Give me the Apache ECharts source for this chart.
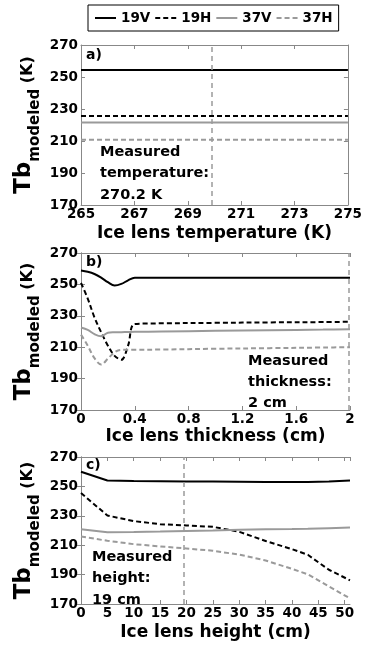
<!DOCTYPE html>
<html>
<head>
<meta charset="utf-8">
<script src="https://cdn.jsdelivr.net/npm/echarts@6/dist/echarts.min.js"></script>
<style>
html,body{margin:0;padding:0;background:#fff;}
#chart{width:365px;height:651px;}
</style>
</head>
<body>
<div id="chart"></div>
<script>
// ---------- data ----------
const seriesNames = ['19V', '19H', '37V', '37H'];

// panel a: ice lens temperature (K)
const aX   = [265, 267, 269, 271, 273, 275];
const a19V = [254.3, 254.3, 254.3, 254.3, 254.3, 254.3];
const a19H = [225.6, 225.6, 225.6, 225.6, 225.6, 225.6];
const a37V = [221.6, 221.6, 221.6, 221.6, 221.6, 221.6];
const a37H = [210.8, 210.8, 210.8, 210.8, 210.8, 210.8];
const aMarker = 269.9;

// panel b: ice lens thickness (cm)
const bX   = [0, 0.05, 0.1, 0.15, 0.2, 0.25, 0.3, 0.35, 0.4, 0.6, 1.0, 1.4, 1.8, 2.0];
const b19V = [258.8, 258.0, 256.6, 254.3, 251.4, 249.3, 250.3, 252.6, 254.2, 254.2, 254.2, 254.2, 254.2, 254.2];
const b19H = [251.0, 241.0, 229.0, 219.5, 211.0, 204.5, 202.0, 211.0, 224.8, 225.2, 225.5, 225.8, 226.0, 226.2];
const b37V = [222.5, 221.0, 218.3, 216.9, 219.2, 219.5, 219.6, 219.7, 219.8, 220.0, 220.4, 220.8, 221.2, 221.5];
const b37H = [218.0, 211.0, 203.0, 199.0, 202.7, 206.8, 208.3, 208.3, 208.4, 208.5, 209.0, 209.4, 209.8, 210.0];
const bMarker = 1.99;

// panel c: ice lens height (cm)
const cX   = [0, 5, 10, 15, 20, 25, 30, 35, 40, 43, 47, 51];
const c19V = [260.0, 254.0, 253.6, 253.5, 253.4, 253.3, 253.2, 253.0, 253.0, 253.0, 253.3, 254.0];
const c19H = [245.5, 230.2, 226.4, 224.3, 223.4, 222.5, 219.1, 212.9, 207.3, 203.5, 193.3, 186.1];
const c37V = [220.8, 218.8, 219.0, 219.3, 219.7, 220.0, 220.5, 220.8, 221.0, 221.2, 221.6, 222.0];
const c37H = [215.9, 213.0, 210.7, 209.2, 207.8, 206.2, 203.6, 199.6, 193.9, 190.2, 182.0, 173.8];
const cMarker = 19.4;

// axis settings
const yTicks = {min: 170, max: 270, interval: 20};
const xAxesDef = [
  {min: 265, max: 275, interval: 2, name: 'Ice lens temperature (K)'},
  {min: 0, max: 2, interval: 0.4, name: 'Ice lens thickness (cm)'},
  {min: 0, max: 51, interval: 5, name: 'Ice lens height (cm)'}
];
const panelLabels = ['a)', 'b)', 'c)'];
const annotations = [
  'Measured\ntemperature:\n270.2 K',
  'Measured\nthickness:\n2 cm',
  'Measured\nheight:\n19 cm'
];

// ---------- build ----------
const FONT = 'DejaVu Sans';
const frameColor = '#888';
const grey = '#9a9a9a';
const styleOf = {
  '19V': {color: '#000', type: 'solid'},
  '19H': {color: '#000', type: [5, 3]},
  '37V': {color: grey, type: 'solid'},
  '37H': {color: grey, type: [5, 3]}
};
const grids = [
  {left: 81, right: 15, top: 45, height: 160},
  {left: 81, right: 15, top: 253, height: 157},
  {left: 81, right: 15, top: 457, height: 147}
];
const xNameGaps = [20, 18, 20];

const panels = [
  {x: aX, ys: [a19V, a19H, a37V, a37H], marker: aMarker, smooth: false},
  {x: bX, ys: [b19V, b19H, b37V, b37H], marker: bMarker, smooth: 0.35},
  {x: cX, ys: [c19V, c19H, c37V, c37H], marker: cMarker, smooth: false}
];

const pair = (xs, ys) => xs.map((v, i) => [v, ys[i]]);

const xAxis = [], yAxis = [], series = [];
panels.forEach((p, gi) => {
  const xd = xAxesDef[gi];
  xAxis.push({
    type: 'value', gridIndex: gi, position: 'bottom',
    min: xd.min, max: xd.max, interval: xd.interval,
    name: xd.name, nameLocation: 'middle', nameGap: xNameGaps[gi],
    nameMoveOverlap: false,
    nameTextStyle: {fontFamily: FONT, fontWeight: 'bold', fontSize: 17, color: '#000'},
    axisLine: {show: true, lineStyle: {color: frameColor, width: 1}},
    axisTick: {show: true, inside: true, length: 4, lineStyle: {color: frameColor}},
    axisLabel: {fontFamily: FONT, fontWeight: 'bold', fontSize: 13.5, color: '#000', margin: 2,
                showMaxLabel: gi !== 2, showMinLabel: true},
    splitLine: {show: false}
  });
  xAxis.push({
    type: 'value', gridIndex: gi, position: 'top',
    min: xd.min, max: xd.max, interval: xd.interval,
    axisLine: {show: true, lineStyle: {color: frameColor, width: 1}},
    axisTick: {show: true, inside: true, length: 4, lineStyle: {color: frameColor}},
    axisLabel: {show: false}, splitLine: {show: false}
  });
  yAxis.push({
    type: 'value', gridIndex: gi, position: 'left',
    min: yTicks.min, max: yTicks.max, interval: yTicks.interval,
    name: '{tb|Tb}{sub|modeled}{k| (K)}',
    nameLocation: 'middle', nameRotate: 90, nameGap: 38,
    nameMoveOverlap: false,
    nameTextStyle: {
      color: '#000',
      rich: {
        tb: {fontFamily: FONT, fontWeight: 'bold', fontSize: 23, color: '#000', lineHeight: 22, verticalAlign: 'top'},
        sub: {fontFamily: FONT, fontWeight: 'bold', fontSize: 15, color: '#000', lineHeight: 12, verticalAlign: 'bottom'},
        k: {fontFamily: FONT, fontWeight: 'bold', fontSize: 16, color: '#000', lineHeight: 30, verticalAlign: 'middle'}
      }
    },
    axisLine: {show: true, lineStyle: {color: frameColor, width: 1}},
    axisTick: {show: true, inside: true, length: 4, lineStyle: {color: frameColor}},
    axisLabel: {fontFamily: FONT, fontWeight: 'bold', fontSize: 13.5, color: '#000', margin: 3},
    splitLine: {show: false}
  });
  yAxis.push({
    type: 'value', gridIndex: gi, position: 'right',
    min: yTicks.min, max: yTicks.max, interval: yTicks.interval,
    axisLine: {show: true, lineStyle: {color: frameColor, width: 1}},
    axisTick: {show: true, inside: true, length: 4, lineStyle: {color: frameColor}},
    axisLabel: {show: false}, splitLine: {show: false}
  });

  p.ys.forEach((ys, si) => {
    const nm = seriesNames[si];
    const st = styleOf[nm];
    const s = {
      name: nm, type: 'line',
      xAxisIndex: gi * 2, yAxisIndex: gi * 2,
      data: pair(p.x, ys),
      symbol: 'none', showSymbol: false,
      smooth: p.smooth,
      color: st.color,
      lineStyle: {color: st.color, width: 2, type: st.type},
      silent: true, animation: false, z: 3
    };
    if (si === 0) {
      s.markLine = {
        silent: true, symbol: ['none', 'none'], animation: false,
        label: {show: false},
        lineStyle: {color: grey, type: [5, 4], width: 1.5},
        data: [{xAxis: p.marker}]
      };
    }
    series.push(s);
  });
});

const annPos = [
  {left: 100, top: 141, lh: 21.5},
  {left: 248, top: 351, lh: 20.7},
  {left: 92, top: 546, lh: 21.6}
];
const labelPos = [{left: 86, top: 48}, {left: 86, top: 255}, {left: 86, top: 458}];
const graphic = [];
panels.forEach((p, gi) => {
  graphic.push({
    type: 'text', left: labelPos[gi].left, top: labelPos[gi].top, z: 10,
    style: {text: panelLabels[gi], fontFamily: FONT, fontWeight: 'bold', fontSize: 14, fill: '#000'}
  });
  graphic.push({
    type: 'text', left: annPos[gi].left, top: annPos[gi].top, z: 10,
    style: {text: annotations[gi], fontFamily: FONT, fontWeight: 'bold', fontSize: 14.5,
            lineHeight: annPos[gi].lh, fill: '#000'}
  });
});

const option = {
  animation: false,
  backgroundColor: '#fff',
  legend: {
    data: seriesNames,
    left: 88, top: 5,
    padding: [6, 6],
    itemGap: 4, itemWidth: 21, itemHeight: 14,
    borderColor: '#000', borderWidth: 1,
    selectedMode: false,
    itemStyle: {opacity: 0},
    textStyle: {fontFamily: FONT, fontWeight: 'bold', fontSize: 13.5, color: '#000'}
  },
  grid: grids,
  xAxis: xAxis,
  yAxis: yAxis,
  series: series,
  graphic: graphic
};

const chart = echarts.init(document.getElementById('chart'), null, {renderer: 'canvas'});
chart.setOption(option);
</script>
</body>
</html>
